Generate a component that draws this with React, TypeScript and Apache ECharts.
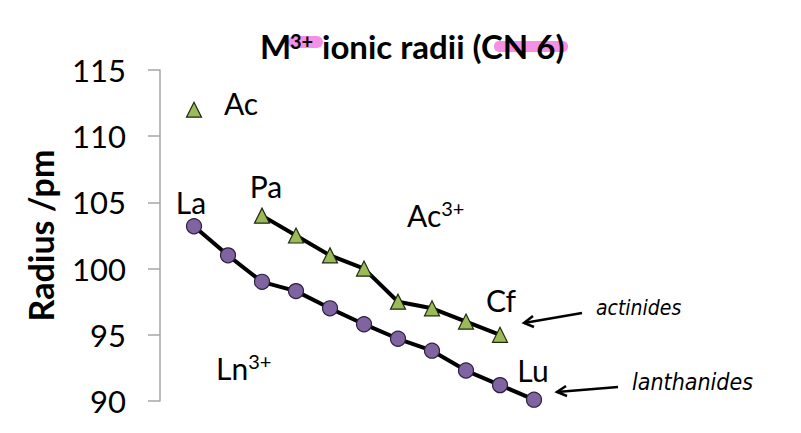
import React, { useEffect, useRef } from "react";
import * as echarts from "echarts";

// x positions are just the order of the points along the series
const lnSlots = [0, 1, 2, 3, 4, 5, 6, 7, 8, 9, 10];
const lnRadii = [103.2, 101.0, 99.0, 98.3, 97.0, 95.8, 94.7, 93.8, 92.3, 91.2, 90.1];
const lnNames = ["La", "", "", "", "", "", "", "", "", "", "Lu"];

const anSlots = [2, 3, 4, 5, 6, 7, 8, 9];
const anRadii = [104.0, 102.5, 101.0, 100.0, 97.5, 97.0, 96.0, 95.0];
const anNames = ["Pa", "", "", "", "", "", "", "Cf"];

const acSlot = [0];
const acRadius = [112.0];

const yTicks = [90, 95, 100, 105, 110, 115];

const FONT = "Lato, 'Open Sans', sans-serif";
const HAND = "'DejaVu Sans Condensed', 'Liberation Sans Narrow', sans-serif";

const App: React.FC = () => {
  const chartRef = useRef<HTMLDivElement>(null);

  useEffect(() => {
    if (!chartRef.current) return;
    const chart = echarts.init(chartRef.current, undefined, { renderer: "svg" });

    const elemLabel = (name: string, offset: number[]) => ({
      show: name !== "",
      formatter: name,
      position: "inside",
      offset,
      fontFamily: FONT,
      fontSize: 30,
      color: "#000",
    });

    const lnData = lnSlots.map((x, i) => ({
      value: [x, lnRadii[i]],
      label: elemLabel(lnNames[i], i === 0 ? [-3, -24] : [-1, -30]),
    }));
    const anData = anSlots.map((x, i) => ({
      value: [x, anRadii[i]],
      label: elemLabel(anNames[i], i === 0 ? [4, -30] : [1, -35]),
    }));
    const acData = acSlot.map((x, i) => ({
      value: [x, acRadius[i]],
      label: elemLabel("Ac", [47, -7]),
    }));

    const rich = {
      b: { fontFamily: FONT, fontSize: 30, color: "#000" },
      s: { fontFamily: FONT, fontSize: 20, color: "#000", padding: [0, 0, 14, 0] },
    };

    const option: echarts.EChartsOption = {
      animation: false,
      backgroundColor: "#fff",
      grid: { left: 160, right: 199, top: 70, bottom: 32 },
      xAxis: {
        type: "value",
        min: -1,
        max: 12,
        show: false,
      },
      yAxis: {
        type: "value",
        min: yTicks[0],
        max: yTicks[yTicks.length - 1],
        interval: 5,
        name: "Radius /pm",
        nameLocation: "middle",
        nameGap: 103,
        nameTextStyle: { fontFamily: FONT, fontSize: 34, fontWeight: "bold", color: "#000" },
        axisLine: { show: true, onZero: false, lineStyle: { color: "#a6a6a6", width: 1.5 } },
        axisTick: { show: true, length: 12, lineStyle: { color: "#a6a6a6", width: 1.5 } },
        axisLabel: { fontFamily: FONT, fontSize: 31, color: "#000", margin: 34 },
        splitLine: { show: false },
      },
      series: [
        {
          name: "lanthanides",
          type: "line",
          data: lnData,
          symbol: "circle",
          symbolSize: 15,
          lineStyle: { color: "#000", width: 4 },
          itemStyle: { color: "#8064a2", borderColor: "#2b1f3d", borderWidth: 1.2 },
          z: 3,
        },
        {
          name: "actinides",
          type: "line",
          data: anData,
          symbol: "triangle",
          symbolSize: 15,
          lineStyle: { color: "#000", width: 4 },
          itemStyle: { color: "#9bbb59", borderColor: "#1f2a10", borderWidth: 1.2 },
          z: 3,
        },
        {
          name: "Ac",
          type: "scatter",
          data: acData,
          symbol: "triangle",
          symbolSize: 15,
          itemStyle: { color: "#9bbb59", borderColor: "#1f2a10", borderWidth: 1.2, opacity: 1 },
        },
      ],
      graphic: [
        // highlighter marks on the title
        { type: "rect", shape: { x: 288, y: 36, width: 35, height: 12, r: 6 }, style: { fill: "#f590e4" }, z: 1 },
        { type: "rect", shape: { x: 494, y: 41, width: 74, height: 11, r: 5 }, style: { fill: "#f590e4" }, z: 1 },
        {
          type: "text",
          x: 260,
          y: 46,
          z: 2,
          style: {
            text: "M",
            fontFamily: FONT,
            fontSize: 33,
            fontWeight: "bold",
            fill: "#000",
            verticalAlign: "middle",
          } as any,
        },
        {
          type: "text",
          x: 290,
          y: 41,
          z: 2,
          style: { text: "3+", fontFamily: FONT, fontSize: 20, fontWeight: "bold", fill: "#000", verticalAlign: "middle" } as any,
        },
        {
          type: "text",
          x: 322,
          y: 46,
          z: 2,
          style: {
            text: "ionic radii (CN 6)",
            fontFamily: FONT,
            fontSize: 33,
            fontWeight: "bold",
            fill: "#000",
            verticalAlign: "middle",
          } as any,
        },
        // region labels
        {
          type: "text",
          x: 407,
          y: 215,
          style: { text: "{b|Ac}{s|3+}", rich, verticalAlign: "middle" } as any,
        },
        {
          type: "text",
          x: 216,
          y: 368,
          style: { text: "{b|Ln}{s|3+}", rich, verticalAlign: "middle" } as any,
        },
        // handwritten notes with arrows
        {
          type: "text",
          x: 596,
          y: 308,
          style: {
            text: "actinides",
            fontFamily: HAND,
            fontSize: 21,
            fontStyle: "italic",
            fill: "#000",
            verticalAlign: "middle",
          } as any,
        },
        {
          type: "text",
          x: 632,
          y: 382,
          style: {
            text: "lanthanides",
            fontFamily: HAND,
            fontSize: 23,
            fontStyle: "italic",
            fill: "#000",
            verticalAlign: "middle",
          } as any,
        },
        {
          type: "polyline",
          shape: { points: [[582, 313], [524, 323]] },
          style: { stroke: "#000", lineWidth: 2.5, fill: "none" },
        },
        {
          type: "polyline",
          shape: { points: [[533, 316], [524, 323], [534, 327]] },
          style: { stroke: "#000", lineWidth: 2.5, fill: "none" },
        },
        {
          type: "polyline",
          shape: { points: [[618, 387], [557, 392]] },
          style: { stroke: "#000", lineWidth: 2.5, fill: "none" },
        },
        {
          type: "polyline",
          shape: { points: [[566, 386], [557, 392], [567, 396]] },
          style: { stroke: "#000", lineWidth: 2.5, fill: "none" },
        },
      ],
    };

    chart.setOption(option);
    return () => chart.dispose();
  }, []);

  return (
    <div
      ref={chartRef}
      style={{ position: "fixed", left: 0, top: 0, width: 801, height: 433 }}
    />
  );
};

export default App;
